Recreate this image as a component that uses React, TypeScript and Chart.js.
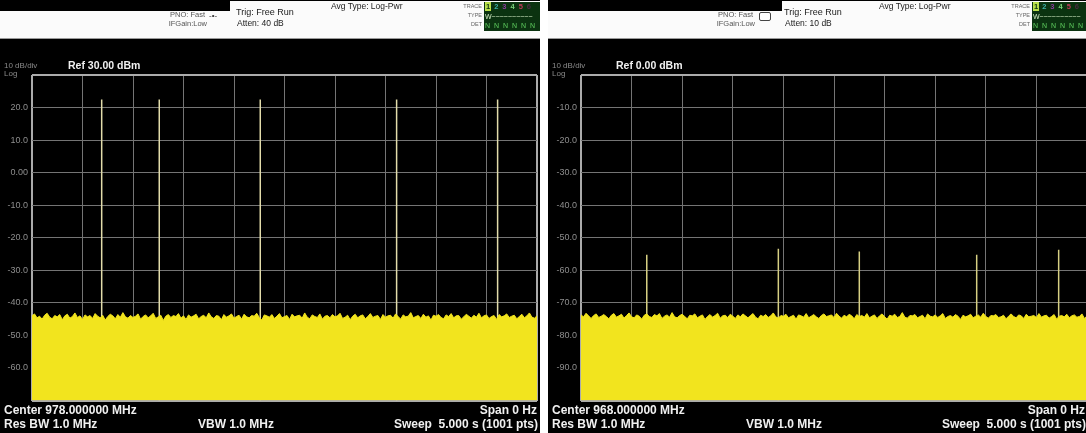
import React, { useEffect, useRef } from 'react';
import { Chart, registerables } from 'chart.js';

Chart.register(...registerables);

// ---------------- DATA ----------------
const sweepTimeRange = [0, 5]; // seconds, zero span
const timeGridStep = 0.025; // seconds between read noise samples

const leftYRange = [-70, 30]; // dBm (Ref 30.00 dBm, 10 dB/div)
const rightYRange = [-100, 0]; // dBm (Ref 0.00 dBm, 10 dB/div)

const leftNoise = [
  -44.0, -43.4, -44.6, -44.1, -45.0, -43.8, -43.2, -44.4, -44.9, -43.9,
  -44.3, -43.6, -45.2, -44.0, -43.5, -44.7, -44.2, -43.1, -44.5, -44.0,
  -45.1, -43.7, -44.3, -43.9, -44.8, -43.3, -44.1, -44.6, -43.8, -45.3,
  -44.2, -43.5, -44.0, -44.9, -43.6, -44.4, -43.0, -44.3, -44.7, -43.9,
  -44.5, -44.1, -43.4, -45.0, -44.2, -43.7, -44.6, -44.0, -43.2, -44.8,
  -44.3, -43.8, -45.4, -44.1, -43.6, -44.5, -43.9, -44.2, -43.3, -44.7,
  -44.0, -45.1, -43.7, -44.4, -44.0, -43.5, -44.9, -44.2, -43.8, -44.6,
  -43.1, -44.3, -44.8, -43.9, -44.1, -45.2, -43.6, -44.4, -44.0, -43.4,
  -44.7, -44.2, -43.8, -45.0, -43.5, -44.3, -44.6, -43.9, -44.1, -43.2,
  -44.5, -45.3, -43.7, -44.0, -44.4, -43.6, -44.8, -44.1, -43.3, -44.6,
  -44.2, -43.9, -45.1, -43.5, -44.3, -44.0, -43.8, -44.7, -43.1, -44.4,
  -44.9, -43.7, -44.2, -44.5, -43.4, -45.0, -44.1, -43.9, -44.6, -43.6,
  -44.3, -44.0, -43.2, -44.8, -44.4, -43.8, -45.2, -44.1, -43.5, -44.6,
  -44.0, -43.7, -44.9, -44.2, -43.3, -44.5, -44.1, -43.9, -45.1, -43.6,
  -44.4, -44.0, -43.8, -44.7, -43.4, -44.2, -45.0, -43.7, -44.3, -44.1,
  -43.0, -44.6, -44.2, -43.9, -44.8, -43.5, -44.4, -44.0, -45.3, -43.8,
  -44.1, -43.6, -44.5, -44.9, -43.7, -44.2, -43.3, -44.6, -44.0, -43.9,
  -45.0, -44.3, -43.5, -44.1, -44.7, -43.8, -44.4, -43.2, -44.6, -44.0,
  -43.7, -44.8, -44.2, -43.9, -45.1, -43.6, -44.3, -44.0, -43.4, -44.5,
  -44.1, -43.8, -44.9, -44.2, -43.5, -44.6, -44.0, -43.1, -44.4, -44.7,
  -44.0,
];
const rightNoise = [
  -73.7, -74.3, -73.2, -74.0, -74.8, -73.9, -73.4, -74.5, -74.1, -73.6,
  -74.2, -74.9, -73.8, -73.3, -74.4, -74.0, -73.5, -74.7, -73.9, -73.1,
  -74.3, -74.6, -73.7, -74.1, -75.0, -73.8, -73.4, -74.2, -74.5, -73.6,
  -74.0, -73.3, -74.8, -74.1, -73.7, -74.4, -73.0, -74.3, -74.6, -73.9,
  -73.5, -74.2, -74.9, -73.8, -74.0, -73.4, -74.6, -74.1, -73.7, -75.1,
  -74.2, -73.6, -74.4, -73.9, -73.2, -74.7, -74.0, -73.8, -74.5, -73.5,
  -74.1, -74.8, -73.7, -74.3, -73.4, -74.0, -74.6, -73.9, -73.3, -74.4,
  -74.9, -73.8, -74.2, -73.6, -74.5, -74.0, -73.1, -74.3, -74.7, -73.9,
  -74.1, -73.5, -74.6, -74.2, -73.8, -75.0, -73.7, -74.0, -74.4, -73.3,
  -74.6, -74.1, -73.6, -74.3, -74.8, -73.9, -73.4, -74.2, -74.0, -73.7,
  -74.5, -73.2, -74.1, -74.7, -73.8, -74.3, -73.5, -74.0, -74.9, -73.6,
  -74.2, -73.9, -74.4, -73.3, -74.6, -74.1, -73.7, -74.8, -74.0, -73.4,
  -74.3, -75.0, -73.8, -74.1, -73.5, -74.5, -74.2, -73.0, -74.4, -74.7,
  -73.9, -74.0, -73.6, -74.6, -74.2, -73.8, -74.9, -73.4, -74.1, -74.3,
  -73.7, -74.5, -74.0, -73.3, -74.8, -74.2, -73.9, -74.4, -73.6, -74.1,
  -75.1, -73.8, -74.3, -74.0, -73.5, -74.6, -74.1, -73.7, -74.4, -73.2,
  -74.2, -74.7, -73.9, -74.0, -73.6, -74.5, -74.3, -73.8, -74.9, -74.1,
  -73.4, -74.2, -74.6, -73.7, -74.0, -74.8, -73.5, -74.3, -74.1, -73.9,
  -74.5, -73.3, -74.4, -74.0, -73.8, -74.7, -74.2, -73.6, -75.0, -74.1,
  -73.9, -74.3, -73.5, -74.6, -74.0, -73.7, -74.4, -74.2, -73.4, -74.8,
  -74.0,
];

const leftPeakTimes = [0.69, 1.26, 2.26, 3.61, 4.61];
const leftPeakLevels = [22.5, 22.5, 22.5, 22.5, 22.5];
const rightPeakTimes = [0.65, 1.95, 2.75, 3.91, 4.72];
const rightPeakLevels = [-55.2, -53.4, -54.2, -55.2, -53.7];

// ---------------- STYLE ----------------
const FONT = '"Liberation Sans", Arial, Helvetica, sans-serif';
const YELLOW = '#f2e41e';
const GRID = '#747474';
const FRAME = '#ababab';

type PanelSpec = {
  noise: number[];
  peakTimes: number[];
  peakLevels: number[];
  yRange: number[];
  peakColor: string;
  width: number;
  axisWidth: number;
  rightPad: number;
};

function makeConfig(p: PanelSpec): any {
  const [tMin, tMax] = sweepTimeRange;
  const [yMin, yMax] = p.yRange;
  const noisePoints = p.noise.map((v, i) => ({ x: tMin + i * timeGridStep, y: v }));
  const peakPoints: any[] = [];
  p.peakTimes.forEach((t, i) => {
    peakPoints.push({ x: t, y: yMin });
    peakPoints.push({ x: t, y: p.peakLevels[i] });
    peakPoints.push({ x: t, y: null });
  });
  const edgeColor = (min: number, max: number) => (ctx: any) => {
    const v = ctx.tick ? ctx.tick.value : null;
    return v === min || v === max ? FRAME : GRID;
  };
  const edgeWidth = (min: number, max: number) => (ctx: any) => {
    const v = ctx.tick ? ctx.tick.value : null;
    return v === min || v === max ? 2 : 1;
  };
  return {
    type: 'line',
    data: {
      datasets: [
        {
          label: 'noise',
          data: noisePoints,
          borderColor: YELLOW,
          backgroundColor: YELLOW,
          borderWidth: 1,
          pointRadius: 0,
          tension: 0,
          fill: 'start',
          order: 1,
        },
        {
          label: 'peaks',
          data: peakPoints,
          borderColor: p.peakColor,
          borderWidth: 1.5,
          pointRadius: 0,
          spanGaps: false,
          fill: false,
          order: 2,
        },
      ],
    },
    options: {
      animation: false,
      responsive: false,
      maintainAspectRatio: false,
      events: [],
      layout: { padding: { left: 0, top: 75, right: p.rightPad, bottom: 32.5 } },
      plugins: {
        legend: { display: false },
        tooltip: { enabled: false },
        title: { display: false },
      },
      scales: {
        x: {
          type: 'linear',
          min: tMin,
          max: tMax,
          ticks: { display: false, stepSize: 0.5 },
          grid: { color: edgeColor(tMin, tMax), lineWidth: edgeWidth(tMin, tMax), drawTicks: false },
          border: { display: false },
          afterFit: (s: any) => {
            s.height = 0;
          },
        },
        y: {
          type: 'linear',
          min: yMin,
          max: yMax,
          ticks: {
            stepSize: 10,
            color: '#8e8e8e',
            font: { size: 9, family: FONT },
            padding: 4,
            callback: (v: number) =>
              v === yMin || v === yMax ? '' : v === 0 ? '0.00' : Number(v).toFixed(1),
          },
          grid: { color: edgeColor(yMin, yMax), lineWidth: edgeWidth(yMin, yMax), drawTicks: false },
          border: { display: false },
          afterFit: (s: any) => {
            s.width = p.axisWidth;
          },
        },
      },
    },
  };
}

function PlotCanvas({ spec }: { spec: PanelSpec }) {
  const ref = useRef<HTMLCanvasElement | null>(null);
  useEffect(() => {
    if (!ref.current) return;
    const chart = new Chart(ref.current, makeConfig(spec));
    return () => chart.destroy();
  }, []);
  return (
    <canvas
      ref={ref}
      width={spec.width}
      height={433}
      style={{ position: 'absolute', left: 0, top: 0, width: spec.width, height: 433, display: 'block' }}
    />
  );
}

const txt = (extra: React.CSSProperties): React.CSSProperties => ({
  position: 'absolute',
  fontFamily: FONT,
  whiteSpace: 'pre',
  lineHeight: 1,
  ...extra,
});

function TraceBox() {
  const cell = (c: string, color: string, bg?: string) => (
    <span style={{ color, background: bg, padding: '0 1px', marginRight: 2 }}>{c}</span>
  );
  return (
    <div style={{ position: 'absolute', left: 484, top: 2, width: 56, height: 29, background: '#0b3310' }}>
      <div style={txt({ left: 1, top: 1, fontSize: 7.5, fontWeight: 700 })}>
        {cell('1', '#0b3310', '#b9e04a')}
        {cell('2', '#3fb0a8')}
        {cell('3', '#8a3a9a')}
        {cell('4', '#7ad07a')}
        {cell('5', '#c03a5a')}
        {cell('6', '#4a2a40')}
      </div>
      <div style={txt({ left: 1, top: 11, fontSize: 7, color: '#d8f0c8' })}>W~~~~~~~~~~</div>
      <div style={txt({ left: 1, top: 20, fontSize: 7, color: '#5fd060', letterSpacing: 1 })}>N N N N N N</div>
    </div>
  );
}

function Panel({
  left,
  width,
  spec,
  ref30,
  atten,
  center,
  leftBox,
  icon,
}: {
  left: number;
  width: number;
  spec: PanelSpec;
  ref30: string;
  atten: string;
  center: string;
  leftBox: number;
  icon: React.ReactNode;
}) {
  return (
    <div style={{ position: 'absolute', left, top: 0, width, height: 433, background: '#000', overflow: 'hidden' }}>
      <PlotCanvas spec={spec} />
      {/* header */}
      <div style={{ position: 'absolute', left: 0, top: 11, width: 540, height: 27, background: '#fbfbfb', borderBottom: '1px solid #9a9a9a' }} />
      <div style={{ position: 'absolute', left: leftBox, top: 1, width: 540 - leftBox, height: 10, background: '#fbfbfb' }} />
      <div style={txt({ left: 150, width: 55, textAlign: 'right', top: 11, fontSize: 7.5, color: '#555' })}>PNO: Fast</div>
      <div style={txt({ left: 150, width: 57, textAlign: 'right', top: 20, fontSize: 7.5, color: '#555' })}>IFGain:Low</div>
      {icon}
      <div style={txt({ left: 236, top: 8, fontSize: 9, color: '#1a1a1a' })}>Trig: Free Run</div>
      <div style={txt({ left: 237, top: 19, fontSize: 8.5, color: '#1a1a1a' })}>{atten}</div>
      <div style={txt({ left: 331, top: 2, fontSize: 8.5, color: '#222' })}>Avg Type: Log-Pwr</div>
      <div style={txt({ left: 430, width: 52, textAlign: 'right', top: 4, fontSize: 5.5, color: '#666' })}>TRACE</div>
      <div style={txt({ left: 430, width: 52, textAlign: 'right', top: 13, fontSize: 5.5, color: '#666' })}>TYPE</div>
      <div style={txt({ left: 430, width: 52, textAlign: 'right', top: 22, fontSize: 5.5, color: '#666' })}>DET</div>
      <TraceBox />
      {/* scale title */}
      <div style={txt({ left: 4, top: 62, fontSize: 8, color: '#8a8a8a' })}>10 dB/div</div>
      <div style={txt({ left: 4, top: 70, fontSize: 8, color: '#8a8a8a' })}>Log</div>
      <div style={txt({ left: 68, top: 60, fontSize: 10.5, fontWeight: 700, color: '#f0f0f0' })}>{ref30}</div>
      {/* footer */}
      <div style={txt({ left: 4, top: 404, fontSize: 12, fontWeight: 700, color: '#f0f0f0' })}>{center}</div>
      <div style={txt({ left: 4, top: 418, fontSize: 12, fontWeight: 700, color: '#f0f0f0' })}>Res BW 1.0 MHz</div>
      <div style={txt({ left: 198, top: 418, fontSize: 12, fontWeight: 700, color: '#f0f0f0' })}>VBW 1.0 MHz</div>
      <div style={txt({ left: 338, width: 199, textAlign: 'right', top: 404, fontSize: 12, fontWeight: 700, color: '#f0f0f0' })}>Span 0 Hz</div>
      <div style={txt({ left: 300, width: 238, textAlign: 'right', top: 418, fontSize: 12, fontWeight: 700, color: '#f0f0f0' })}>Sweep  5.000 s (1001 pts)</div>
    </div>
  );
}

const leftSpec: PanelSpec = {
  noise: leftNoise,
  peakTimes: leftPeakTimes,
  peakLevels: leftPeakLevels,
  yRange: leftYRange,
  peakColor: '#e2dcaa',
  width: 540,
  axisWidth: 32,
  rightPad: 3,
};

const rightSpec: PanelSpec = {
  noise: rightNoise,
  peakTimes: rightPeakTimes,
  peakLevels: rightPeakLevels,
  yRange: rightYRange,
  peakColor: '#d6cf82',
  width: 542,
  axisWidth: 33,
  rightPad: 3,
};

export default function App() {
  return (
    <div style={{ position: 'absolute', left: 0, top: 0, width: 1086, height: 433, background: '#fff', overflow: 'hidden' }}>
      <Panel
        left={0}
        width={540}
        spec={leftSpec}
        ref30="Ref 30.00 dBm"
        atten="Atten: 40 dB"
        center="Center 978.000000 MHz"
        leftBox={230}
        icon={<div style={txt({ left: 209, top: 12, fontSize: 8, color: '#333' })}>-•-</div>}
      />
      <Panel
        left={548}
        width={542}
        spec={rightSpec}
        ref30="Ref 0.00 dBm"
        atten="Atten: 10 dB"
        center="Center 968.000000 MHz"
        leftBox={234}
        icon={
          <div
            style={{
              position: 'absolute',
              left: 211,
              top: 12,
              width: 10,
              height: 7,
              border: '1px solid #444',
              borderRadius: 2,
              background: '#fff',
            }}
          />
        }
      />
    </div>
  );
}
